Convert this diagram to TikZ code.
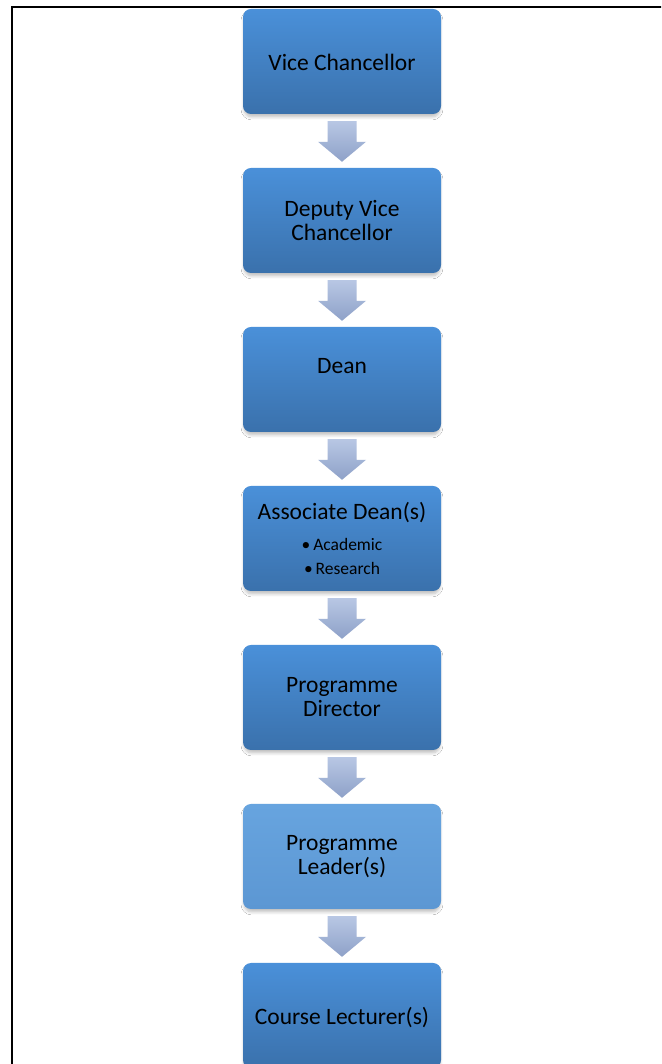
\documentclass[tikz,border=0pt]{standalone}
\usepackage{fontspec}
\setmainfont{Carlito}
\usetikzlibrary{calc,shadows.blur}
\definecolor{boxtop}{HTML}{4A90D9}
\definecolor{boxbot}{HTML}{3A71AC}
\definecolor{lighttop}{HTML}{67A4DF}
\definecolor{lightbot}{HTML}{5C97D3}
\definecolor{arrtop}{HTML}{B8C7E4}
\definecolor{arrbot}{HTML}{8EA1C8}
\tikzset{
  orgbox/.style={rounded corners=8pt, minimum width=198pt, minimum height=105pt,
    inner sep=0pt, top color=boxtop, bottom color=boxbot, draw=none,
    blur shadow={shadow xshift=0pt, shadow yshift=-3.5pt, shadow blur steps=6, shadow opacity=25, shadow blur radius=3pt, shadow scale=0.99}},
  lightbox/.style={orgbox, top color=lighttop, bottom color=lightbot},
  boxtext/.style={align=center, inner sep=0pt, font=\fontsize{23.5}{24}\selectfont, text=black},
  subtext/.style={align=center, inner sep=0pt, font=\fontsize{17.5}{24}\selectfont, text=black},
  arrowfill/.style={top color=arrtop, bottom color=arrbot, draw=none},
  frameline/.style={line width=2pt, black}
}
\newcommand\flowarrow[2]{%
  \path[arrowfill] let \p1=($(#1.south)+(0,-7)$), \p2=($(#2.north)+(0,6)$) in
    (\x1-14.5pt,\y1) -- (\x1+14.5pt,\y1) -- (\x1+14.5pt,\y2+20pt) -- (\x1+24pt,\y2+20pt)
    -- (\x2,\y2) -- (\x1-24pt,\y2+20pt) -- (\x1-14.5pt,\y2+20pt) -- cycle;}
\begin{document}
\begin{tikzpicture}[x=1pt,y=1pt]
\useasboundingbox (0,0) rectangle (661,1064);
\clip (0,0) rectangle (661,1064);
\fill[white] (0,0) rectangle (661,1064);
% frame
\coordinate (fbl) at (11.5,-10);
\coordinate (ftl) at (11.5,1056.5);
\coordinate (ftr) at (680,1056.5);
\draw[frameline] (fbl) -- (ftl) -- (ftr);
% boxes
\node[orgbox] (b1) at (342,1002.5) {};
\node[orgbox] (b2) at (342,843.5) {};
\node[orgbox] (b3) at (342,684.5) {};
\node[orgbox] (b4) at (342,525.5) {};
\node[orgbox] (b5) at (342,366.5) {};
\node[lightbox] (b6) at (342,207.5) {};
\node[orgbox] (b7) at (342,48.5) {};
% texts
\node[boxtext] (t1) at (342,1002) {Vice Chancellor};
\node[boxtext] (t2) at (342,843.5) {Deputy Vice\\Chancellor};
\node[boxtext] (t3) at (342,698) {Dean};
\node[boxtext] (t4) at (342,551) {Associate Dean(s)};
\node[subtext] (t4b) at (342,508) {\textbullet\,Academic\\\textbullet\,Research};
\node[boxtext] (t5) at (342,366.5) {Programme\\Director};
\node[boxtext] (t6) at (342,207.5) {Programme\\Leader(s)};
\node[boxtext] (t7) at (342,46) {Course Lecturer(s)};
% arrows
\flowarrow{b1}{b2}
\flowarrow{b2}{b3}
\flowarrow{b3}{b4}
\flowarrow{b4}{b5}
\flowarrow{b5}{b6}
\flowarrow{b6}{b7}
\end{tikzpicture}
\end{document}
